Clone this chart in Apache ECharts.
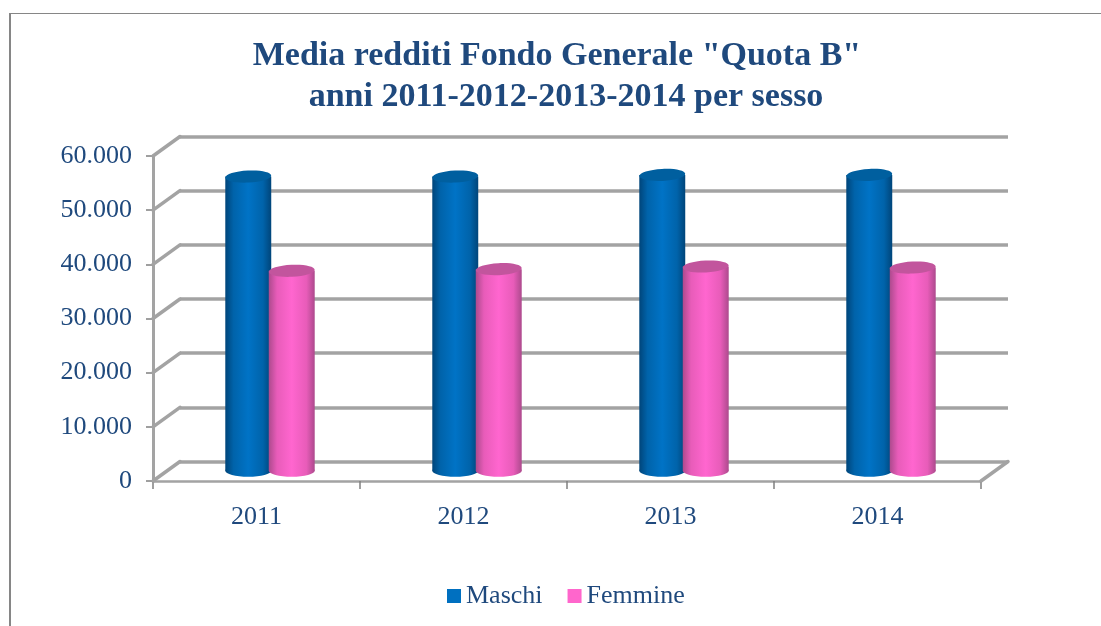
<!DOCTYPE html>
<html><head><meta charset="utf-8">
<style>html,body{margin:0;padding:0;background:#fff}#c{width:1101px;height:626px}</style>
<script src="https://cdn.jsdelivr.net/npm/echarts@6/dist/echarts.min.js"></script>
</head><body><div id="c"></div>
<script>
const categories = ['2011','2012','2013','2014'];
const maschi = [54400,54400,54700,54700];
const femmine = [37000,37300,37800,37600];
const yTicks = [0,10000,20000,30000,40000,50000,60000];
const titleLines = ['Media redditi Fondo Generale "Quota B"','anni 2011-2012-2013-2014 per sesso'];
const TXT='#1F497D', FONT='"Liberation Serif","Times New Roman",serif', GRID='#a3a3a3';
const DX=27, DY=-19.5;
const fmt=v=>String(v).replace(/\B(?=(\d{3})+$)/g,'.');

function cylinder(colors, shift){
  return function(params, api){
    const cat=api.value(0), val=api.value(1);
    const band=api.size([1,0])[0];
    const top=api.coord([cat,val]), base=api.coord([cat,0]);
    const cx=top[0]+shift*band+DX/2, w=band*0.222, rx=w/2, ry=6;
    const ty=top[1]+DY/2, by=base[1]+DY/2-0.5;
    const grad={type:'linear',x:0,y:0,x2:1,y2:0,colorStops:[
      {offset:0,color:colors[0]},{offset:.18,color:colors[1]},{offset:.5,color:colors[2]},
      {offset:.82,color:colors[1]},{offset:1,color:colors[0]}]};
    return {type:'group',children:[
      {type:'ellipse',shape:{cx:cx,cy:by,rx:rx,ry:ry},style:{fill:grad}},
      {type:'rect',shape:{x:cx-rx,y:ty,width:w,height:by-ty},style:{fill:grad}},
      {type:'ellipse',shape:{cx:cx,cy:ty,rx:rx,ry:ry},rotation:0.05,originX:cx,originY:ty,style:{fill:colors[3]}}
    ]};
  };
}

const titleStyle={fontFamily:FONT,fontWeight:'bold',fontSize:34,color:TXT};
const option={
  animation:false,
  backgroundColor:'#fff',
  title:[
    {left:552,top:34,textAlign:'center',text:titleLines[0],textStyle:titleStyle},
    {left:561,top:75,textAlign:'center',text:titleLines[1],textStyle:titleStyle}
  ],
  legend:{left:442,top:578,data:['Maschi','Femmine'],icon:'rect',itemWidth:14,itemHeight:14,itemGap:25,
    textStyle:{fontFamily:FONT,fontSize:26,color:TXT,padding:[0,0,0,0]}},
  grid:[
    {left:153,top:156,width:828,height:325},
    {left:180,top:136.5,width:828,height:325}
  ],
  xAxis:[
    {type:'category',gridIndex:0,data:categories,
     axisLine:{lineStyle:{color:GRID,width:2.5}},
     axisTick:{show:true,length:8,lineStyle:{color:'#808080',width:1.5}},
     axisLabel:{fontFamily:FONT,fontSize:26,color:TXT,margin:23},splitLine:{show:false}},
    {type:'category',gridIndex:1,data:categories,axisLine:{show:false},axisTick:{show:false},axisLabel:{show:false}}
  ],
  yAxis:[
    {type:'value',gridIndex:0,min:0,max:60000,interval:10000,
     axisLine:{show:true,lineStyle:{color:GRID,width:3}},
     axisTick:{show:true,length:7,lineStyle:{color:'#808080',width:1.5}},
     axisLabel:{fontFamily:FONT,fontSize:26,color:TXT,margin:21,formatter:fmt},splitLine:{show:false}},
    {type:'value',gridIndex:1,min:0,max:60000,interval:10000,
     axisLine:{show:false},axisTick:{show:false},axisLabel:{show:false},
     splitLine:{show:true,lineStyle:{color:GRID,width:3.5}}}
  ],
  series:[
    {name:'depth',type:'custom',xAxisIndex:0,yAxisIndex:0,silent:true,clip:false,z:1,
     data:yTicks.map(v=>[0,v]),
     renderItem(params,api){
       const band=api.size([1,0])[0];
       const p=api.coord([api.value(0),api.value(1)]);
       const x0=p[0]-band/2, y0=p[1];
       const st={stroke:GRID,lineWidth:3.5,lineCap:'round'};
       const kids=[{type:'line',shape:{x1:x0,y1:y0,x2:x0+DX,y2:y0+DY},style:st}];
       if(api.value(1)===0) kids.push({type:'line',shape:{x1:x0+band*categories.length,y1:y0,x2:x0+band*categories.length+DX,y2:y0+DY},style:st});
       return {type:'group',children:kids};
     }},
    {name:'Maschi',type:'custom',xAxisIndex:0,yAxisIndex:0,clip:false,z:3,
     itemStyle:{color:'#0070C0'},
     data:maschi.map((v,i)=>[i,v]),
     renderItem:cylinder(['#00457a','#0063aa','#0073c6','#005f9f'],-0.105)},
    {name:'Femmine',type:'custom',xAxisIndex:0,yAxisIndex:0,clip:false,z:4,
     itemStyle:{color:'#FF66CC'},
     data:femmine.map((v,i)=>[i,v]),
     renderItem:cylinder(['#ad4a8d','#e85cb9','#ff66cf','#c2559d'],0.105)}
  ],
  graphic:[
    {type:'rect',silent:true,shape:{x:9,y:13,width:2,height:613},style:{fill:'#868686'}},
    {type:'rect',silent:true,shape:{x:9,y:13,width:1092,height:1},style:{fill:'#868686'}}
  ]
};
echarts.init(document.getElementById('c'),null,{renderer:'canvas'}).setOption(option);
</script></body></html>
